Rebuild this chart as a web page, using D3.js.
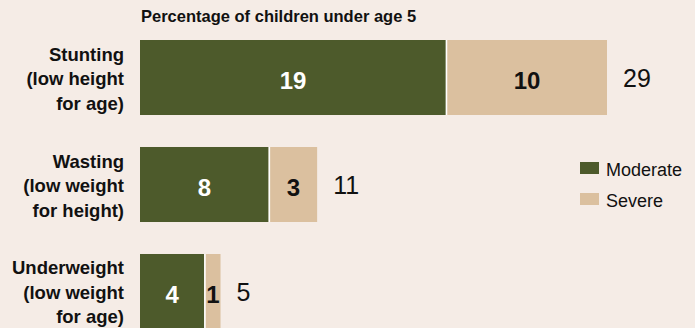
<!DOCTYPE html>
<html>
<head>
<meta charset="utf-8">
<script src="https://cdn.jsdelivr.net/npm/d3@7"></script>
<style>
  html, body { margin: 0; padding: 0; background: #f5ece6; }
  svg { display: block; font-family: "Liberation Sans", Arial, sans-serif; }
</style>
</head>
<body>
<svg id="chart" width="695" height="328"></svg>
<script>
const categories = ["Stunting", "Wasting", "Underweight"];
const categoryLines = [
  ["Stunting", "(low height", "for age)"],
  ["Wasting", "(low weight", "for height)"],
  ["Underweight", "(low weight", "for age)"]
];
const moderate = [19, 8, 4];
const severe = [10, 3, 1];
const totals = [29, 11, 5];
const seriesNames = ["Moderate", "Severe"];
const title = "Percentage of children under age 5";

const colors = { Moderate: "#4d5a2b", Severe: "#dbc09f" };

const svg = d3.select("#chart");
const W = 695, H = 328;
svg.append("rect").attr("width", W).attr("height", H).attr("fill", "#f5ece6");

const x = d3.scaleLinear().domain([0, 29]).range([140, 607]);
const y = d3.scaleBand().domain(categories).range([40, 329]).paddingInner(0.299).paddingOuter(0);

svg.append("text")
  .attr("x", 141).attr("y", 22)
  .attr("font-size", 16.5).attr("font-weight", "bold").attr("fill", "#111")
  .text(title);

const rows = categories.map((c, i) => ({ c, i, mod: moderate[i], sev: severe[i], tot: totals[i] }));

const g = svg.append("g");
const row = g.selectAll("g.row").data(rows).join("g").attr("class", "row");

// moderate
row.append("rect")
  .attr("x", x(0)).attr("y", d => y(d.c))
  .attr("width", d => x(d.mod) - x(0)).attr("height", y.bandwidth())
  .attr("fill", colors.Moderate);
// severe
row.append("rect")
  .attr("x", d => x(d.mod)).attr("y", d => y(d.c))
  .attr("width", d => x(d.mod + d.sev) - x(d.mod)).attr("height", y.bandwidth())
  .attr("fill", colors.Severe);
// separator
row.append("line")
  .attr("x1", d => x(d.mod) + 0.5).attr("x2", d => x(d.mod) + 0.5)
  .attr("y1", d => y(d.c)).attr("y2", d => y(d.c) + y.bandwidth())
  .attr("stroke", "#ffffff").attr("stroke-width", 1.6);

// value labels
row.append("text")
  .attr("x", d => (x(0) + x(d.mod)) / 2)
  .attr("y", d => y(d.c) + y.bandwidth() / 2 + 11.5)
  .attr("text-anchor", "middle").attr("font-size", 24).attr("font-weight", "bold")
  .attr("fill", "#ffffff")
  .text(d => d.mod);
row.append("text")
  .attr("x", d => (x(d.mod) + x(d.mod + d.sev)) / 2 + 0.5)
  .attr("y", d => y(d.c) + y.bandwidth() / 2 + 11.5)
  .attr("text-anchor", "middle").attr("font-size", 24).attr("font-weight", "bold")
  .attr("fill", "#111")
  .text(d => d.sev);
// totals
row.append("text")
  .attr("x", d => x(d.tot) + 16)
  .attr("y", d => y(d.c) + y.bandwidth() / 2 + 9.5)
  .attr("font-size", 25).attr("fill", "#111")
  .text(d => d.tot);

// category labels
row.append("text")
  .attr("text-anchor", "end").attr("font-size", 18.5).attr("font-weight", "bold").attr("fill", "#111")
  .each(function(d) {
    const t = d3.select(this);
    const lines = categoryLines[d.i];
    const mid = y(d.c) + y.bandwidth() / 2 + 7.5;
    lines.forEach((ln, k) => {
      t.append("tspan").attr("x", 124).attr("y", mid + (k - 1) * 24.5).text(ln);
    });
  });

// legend
const leg = svg.append("g").selectAll("g").data(seriesNames).join("g")
  .attr("transform", (d, i) => `translate(580, ${162 + i * 31})`);
leg.append("rect").attr("width", 19).attr("height", 12).attr("fill", d => colors[d]);
leg.append("text").attr("x", 26).attr("y", 13.5)
  .attr("font-size", 18).attr("fill", "#111").text(d => d);
</script>
</body>
</html>
